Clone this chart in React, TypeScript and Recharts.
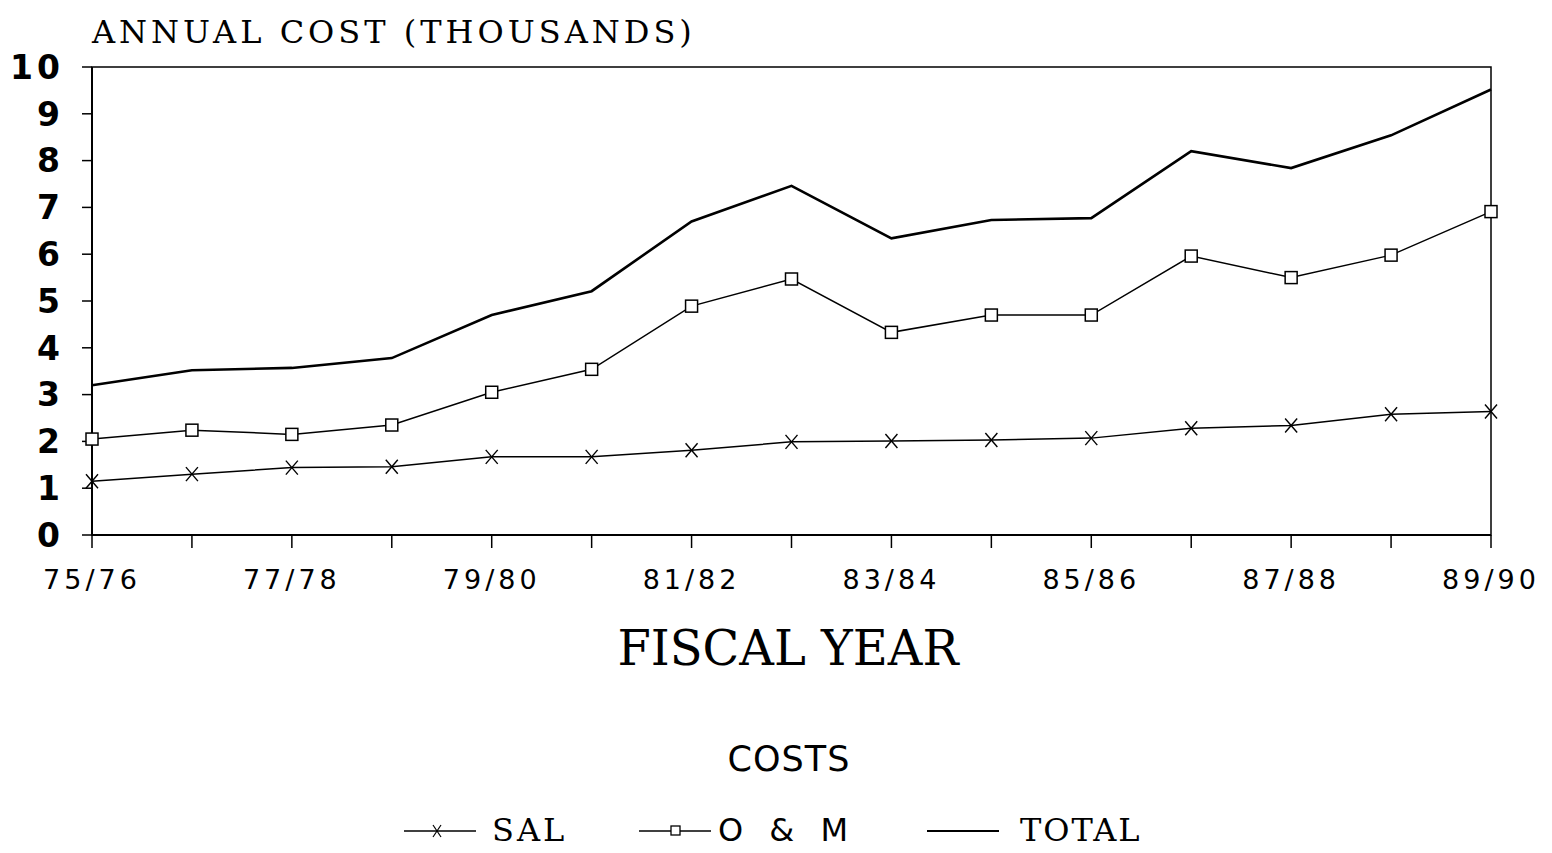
import { LineChart, Line, XAxis, YAxis, ReferenceArea } from "recharts";

const years = [
  "75/76", "76/77", "77/78", "78/79", "79/80", "80/81", "81/82", "82/83",
  "83/84", "84/85", "85/86", "86/87", "87/88", "88/89", "89/90",
];
const sal = [1.15, 1.3, 1.44, 1.46, 1.67, 1.67, 1.81, 1.99, 2.01, 2.03, 2.07, 2.28, 2.34, 2.58, 2.64];
const om = [2.05, 2.24, 2.15, 2.35, 3.05, 3.54, 4.89, 5.47, 4.33, 4.7, 4.7, 5.96, 5.5, 5.98, 6.91];
const total = [3.2, 3.52, 3.57, 3.78, 4.7, 5.21, 6.7, 7.46, 6.34, 6.73, 6.77, 8.2, 7.84, 8.54, 9.52];
const yTicks = [0, 1, 2, 3, 4, 5, 6, 7, 8, 9, 10];

const data = years.map((year, i) => ({
  year,
  sal: sal[i],
  om: om[i],
  total: total[i],
}));

const serif = "'DejaVu Serif', serif";
const sans = "'DejaVu Sans', sans-serif";

function CrossDot(props: any) {
  const { cx, cy } = props;
  if (cx == null || cy == null) return null;
  return (
    <g stroke="#000" strokeWidth={1.4}>
      <line x1={cx - 6} y1={cy - 7} x2={cx + 6} y2={cy + 7} />
      <line x1={cx - 6} y1={cy + 7} x2={cx + 6} y2={cy - 7} />
    </g>
  );
}

function SquareDot(props: any) {
  const { cx, cy } = props;
  if (cx == null || cy == null) return null;
  return (
    <rect x={cx - 6} y={cy - 6} width={12} height={12} fill="#fff" stroke="#000" strokeWidth={1.5} />
  );
}

function LegendIcon({ kind }: { kind: string }) {
  return (
    <svg width={76} height={20}>
      <line x1={2} y1={10} x2={74} y2={10} stroke="#000" strokeWidth={kind === "total" ? 2.2 : 1.4} />
      {kind === "sal" && (
        <g stroke="#000" strokeWidth={1.2}>
          <line x1={31} y1={4} x2={39} y2={16} />
          <line x1={31} y1={16} x2={39} y2={4} />
        </g>
      )}
      {kind === "om" && <rect x={34} y={5} width={9} height={9} fill="#fff" stroke="#000" strokeWidth={1.3} />}
    </svg>
  );
}

// legend placement: icon left edge and text left edge
const legendItems = [
  { kind: "sal", label: "SAL", font: serif, iconX: 402, textX: 492, spacing: 3 },
  { kind: "om", label: "O & M", font: sans, iconX: 637, textX: 718, spacing: 8 },
  { kind: "total", label: "TOTAL", font: serif, iconX: 925, textX: 1020, spacing: 2 },
];

export default function App() {
  return (
    <div style={{ position: "absolute", left: 0, top: 0, width: 1552, height: 853, background: "#fff" }}>
      <div
        style={{
          position: "absolute", left: 92, top: 13, fontFamily: serif, fontSize: 32,
          letterSpacing: 4, color: "#000", whiteSpace: "nowrap",
        }}
      >
        ANNUAL COST (THOUSANDS)
      </div>

      <LineChart width={1552} height={853} data={data} margin={{ top: 67, right: 61, left: 0, bottom: 258 }}>
        <ReferenceArea x1="75/76" x2="89/90" y1={0} y2={10} fill="none" stroke="#000" strokeWidth={1.5} />
        <XAxis
          dataKey="year"
          interval={0}
          height={60}
          tickSize={13}
          tickMargin={22}
          padding={{ left: 0, right: 0 }}
          axisLine={{ stroke: "#000", strokeWidth: 2 }}
          tickLine={{ stroke: "#000", strokeWidth: 1.5 }}
          tick={{ fill: "#000", fontFamily: sans, fontSize: 27, letterSpacing: 4 }}
          tickFormatter={(v: string, i: number) => (i % 2 === 0 ? v : "")}
        />
        <YAxis
          width={92}
          domain={[0, 10]}
          ticks={yTicks}
          interval={0}
          tickSize={10}
          tickMargin={18}
          axisLine={{ stroke: "#000", strokeWidth: 2 }}
          tickLine={{ stroke: "#000", strokeWidth: 1.5 }}
          tick={{ fill: "#000", fontFamily: sans, fontSize: 33, fontWeight: 600, letterSpacing: 4 }}
        />
        <Line
          type="linear"
          dataKey="total"
          stroke="#000"
          strokeWidth={2.6}
          dot={false}
          isAnimationActive={false}
        />
        <Line
          type="linear"
          dataKey="om"
          stroke="#000"
          strokeWidth={1.5}
          dot={<SquareDot />}
          isAnimationActive={false}
        />
        <Line
          type="linear"
          dataKey="sal"
          stroke="#000"
          strokeWidth={1.5}
          dot={<CrossDot />}
          isAnimationActive={false}
        />
      </LineChart>

      <div
        style={{
          position: "absolute", left: 0, width: 1552, top: 620, textAlign: "center",
          fontFamily: serif, fontSize: 48, paddingLeft: 24, boxSizing: "border-box", color: "#000",
        }}
      >
        FISCAL YEAR
      </div>
      <div
        style={{
          position: "absolute", left: 0, width: 1552, top: 739, textAlign: "center",
          fontFamily: sans, fontSize: 35, letterSpacing: 1, paddingLeft: 26, boxSizing: "border-box", color: "#000",
        }}
      >
        COSTS
      </div>
      {legendItems.map((it) => (
        <div key={it.kind}>
          <div style={{ position: "absolute", left: it.iconX, top: 821 }}>
            <LegendIcon kind={it.kind} />
          </div>
          <span
            style={{
              position: "absolute", left: it.textX, top: 811, fontFamily: it.font, fontSize: 32,
              letterSpacing: it.spacing, color: "#000", whiteSpace: "nowrap",
            }}
          >
            {it.label}
          </span>
        </div>
      ))}
    </div>
  );
}
